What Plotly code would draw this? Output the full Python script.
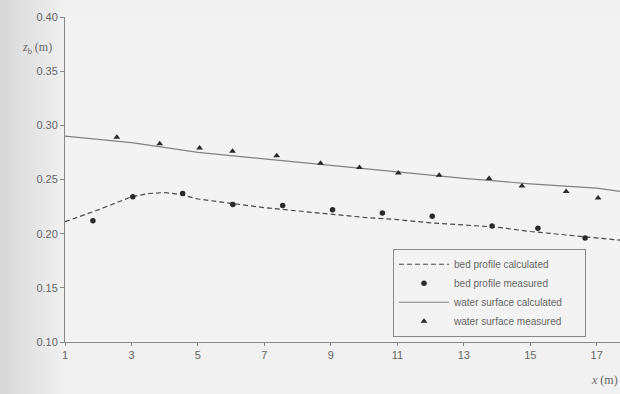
import plotly.graph_objects as go

# calculated profiles
x_calc = [1, 2, 3, 3.5, 4, 4.5, 5, 6, 7, 8, 9, 10, 11, 12, 13, 14, 15, 16, 17, 17.7]
bed_calc = [0.211, 0.222, 0.234, 0.237, 0.238, 0.236, 0.232, 0.228, 0.224, 0.221, 0.218,
            0.215, 0.213, 0.210, 0.208, 0.206, 0.202, 0.199, 0.196, 0.194]
x_ws_calc = [1, 3, 5, 7, 9, 11, 13, 15, 17, 17.7]
ws_calc = [0.290, 0.284, 0.275, 0.269, 0.263, 0.257, 0.251, 0.246, 0.242, 0.239]

# measured bed profile
x_bed_meas = [1.84, 3.04, 4.54, 6.05, 7.55, 9.05, 10.55, 12.05, 13.85, 15.23, 16.65]
bed_meas = [0.212, 0.234, 0.237, 0.227, 0.226, 0.222, 0.219, 0.216, 0.207, 0.205, 0.196]

# measured water surface
x_ws_meas = [2.56, 3.85, 5.05, 6.04, 7.37, 8.69, 9.86, 11.03, 12.26, 13.76, 14.75, 16.08, 17.04]
ws_meas = [0.289, 0.283, 0.279, 0.276, 0.272, 0.265, 0.261, 0.256, 0.254, 0.251, 0.244, 0.239, 0.233]

series_names = ["bed profile calculated", "bed profile measured",
                "water surface calculated", "water surface measured"]

x_ticks = [1, 3, 5, 7, 9, 11, 13, 15, 17]
y_ticks = [0.10, 0.15, 0.20, 0.25, 0.30, 0.35, 0.40]

ink = "#2a2a2a"
grey = "#666666"
pad = "\u00a0" * 6  # right padding inside the legend box

fig = go.Figure()
fig.add_trace(go.Scatter(x=x_calc, y=bed_calc, mode="lines", name=series_names[0] + pad,
                         line=dict(color="#4a4a4a", width=1.2, dash="5px,3px")))
fig.add_trace(go.Scatter(x=x_bed_meas, y=bed_meas, mode="markers", name=series_names[1] + pad,
                         marker=dict(color=ink, size=5.5, symbol="circle")))
fig.add_trace(go.Scatter(x=x_ws_calc, y=ws_calc, mode="lines", name=series_names[2] + pad,
                         line=dict(color="#808080", width=1.2)))
fig.add_trace(go.Scatter(x=x_ws_meas, y=ws_meas, mode="markers", name=series_names[3] + pad,
                         marker=dict(color=ink, size=6, symbol="triangle-up")))

# faint scan shading on the left margin (smooth gradient of thin strips)
shapes = []
n = 16
for i in range(n):
    v = int(0xd8 + (0xf0 - 0xd8) * i / (n - 1))
    c = f"#{v:02x}{v:02x}{v:02x}"
    x0 = -0.117 + i * 0.117 / n
    shapes.append(dict(type="rect", xref="paper", yref="paper", layer="below",
                       x0=x0, x1=x0 + 0.117 / n + 0.001, y0=-0.17, y1=1.06,
                       fillcolor=c, line=dict(width=0)))

fig.update_layout(
    width=620, height=394,
    margin=dict(l=65, r=0, t=17, b=52),
    paper_bgcolor="#f1f1f1", plot_bgcolor="#f3f3f3",
    font=dict(family="Liberation Sans, Arial", size=11, color=grey),
    showlegend=True,
    shapes=shapes,
    legend=dict(x=0.591, y=0.287, xanchor="left", yanchor="top",
                bgcolor="rgba(0,0,0,0)", bordercolor="#888888", borderwidth=1,
                font=dict(size=10, color="#666666"), tracegroupgap=0,
                itemwidth=50),
    xaxis=dict(range=[1, 17.7], tickvals=x_ticks, ticktext=[str(v) for v in x_ticks],
               showgrid=False, zeroline=False, showline=True, linecolor="#888888", linewidth=1,
               ticks="outside", ticklen=3, tickcolor="#888888"),
    yaxis=dict(range=[0.10, 0.40], tickvals=y_ticks, ticktext=[f"{v:.2f}" for v in y_ticks],
               showgrid=False, zeroline=False, showline=True, linecolor="#888888", linewidth=1,
               ticks="outside", ticklen=4, tickcolor="#888888"),
    annotations=[
        dict(text="<i>z</i><sub>b</sub> (m)", x=-0.05, y=0.905, xref="paper", yref="paper",
             xanchor="center", yanchor="middle", showarrow=False,
             font=dict(family="Liberation Serif", size=12, color=grey)),
        dict(text="<i>x</i> (m)", x=1.0, y=-0.09, xref="paper", yref="paper",
             xanchor="right", yanchor="top", showarrow=False,
             font=dict(family="Liberation Serif", size=12, color=grey)),
    ],
)

fig.write_html("out.html", config={"displayModeBar": False},
               post_script="document.body.style.margin='0';document.body.style.overflow='hidden';")
